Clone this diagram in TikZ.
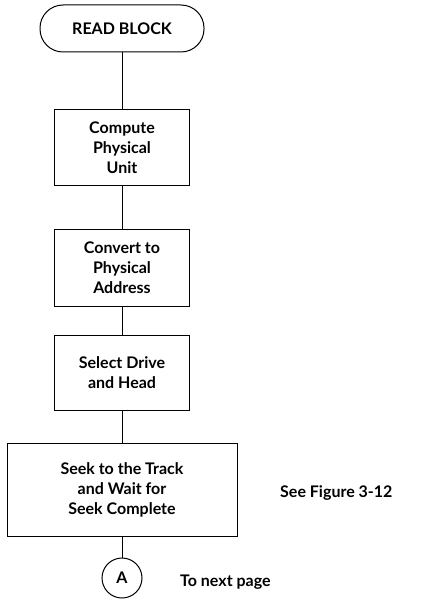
\documentclass[tikz,border=0pt]{standalone}
\usepackage{fontspec}
\setmainfont{Lato}
\begin{document}
\begin{tikzpicture}[x=1pt,y=-1pt,
  every node/.style={font=\fontsize{16}{20}\selectfont\bfseries},
  proc/.style={draw, line width=1pt, align=center, inner sep=0pt, minimum width=135pt, minimum height=75pt},
  term/.style={draw, line width=1pt, rounded corners=23pt, minimum width=164pt, minimum height=47pt, inner sep=0pt},
  conn/.style={line width=1pt},
  lbl/.style={anchor=west, inner sep=0pt}]
\useasboundingbox (0,0) rectangle (429,615);
\node[term] (start) at (122,28.5) {READ BLOCK};
\node[proc] (b1) at (122,147.5) {Compute\\Physical\\Unit};
\node[proc, minimum height=77pt] (b2) at (122,267.5) {Convert to\\Physical\\Address};
\node[proc] (b3) at (122,372.5) {Select Drive\\and Head};
\node[proc, minimum width=230pt, minimum height=93pt] (b4) at (122,489.5) {Seek to the Track\\and Wait for\\Seek Complete};
\node[circle, draw, line width=1pt, minimum size=40pt, inner sep=0pt] (A) at (122,578) {A};
\node[lbl] (see) at (280,493) {See Figure 3-12};
\node[lbl] (next) at (180,582) {To next page};
\draw[conn] (start) -- (b1);
\draw[conn] (b1) -- (b2);
\draw[conn] (b2) -- (b3);
\draw[conn] (b3) -- (b4);
\draw[conn] (b4) -- (A);
\end{tikzpicture}
\end{document}
